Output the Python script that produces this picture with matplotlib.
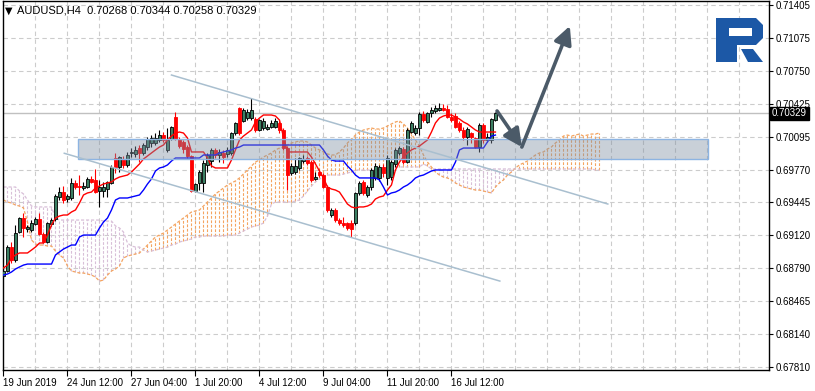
import matplotlib
matplotlib.use("Agg")
import matplotlib.pyplot as plt
from matplotlib.patches import Rectangle, Polygon
from matplotlib.transforms import blended_transform_factory
import numpy as np

plt.rcParams['font.family'] = ['Liberation Sans', 'DejaVu Sans']

# ---- data (AUDUSD H4) ----
opens = [0.68714, 0.68764, 0.69002, 0.68873, 0.69151, 0.69290, 0.69181, 0.69171, 0.69230, 0.69280,
         0.69131, 0.69052, 0.69230, 0.69280, 0.69499, 0.69548, 0.69479, 0.69489, 0.69638, 0.69608,
         0.69588, 0.69598, 0.69678, 0.69668, 0.69558, 0.69558, 0.69578, 0.69638, 0.69886, 0.69797,
         0.69876, 0.69817, 0.69936, 0.69926, 0.69985, 0.69936, 0.69995, 0.70035, 0.70035, 0.70065,
         0.70114, 0.69966, 0.70075, 0.70293, 0.70075, 0.70045, 0.69995, 0.69906, 0.69558, 0.69638,
         0.69638, 0.69817, 0.69856, 0.69966, 0.69916, 0.69936, 0.69926, 0.69936, 0.70134, 0.70383,
         0.70254, 0.70283, 0.70283, 0.70273, 0.70164, 0.70184, 0.70174, 0.70194, 0.70194, 0.70234,
         0.70164, 0.69985, 0.69737, 0.69747, 0.69787, 0.69856, 0.69886, 0.69846, 0.69678, 0.69747,
         0.69717, 0.69598, 0.69320, 0.69370, 0.69270, 0.69240, 0.69240, 0.69240, 0.69240, 0.69539,
         0.69648, 0.69519, 0.69598, 0.69688, 0.69688, 0.69797, 0.69688, 0.69697, 0.69827, 0.69936,
         0.69975, 0.69846, 0.70144, 0.70134, 0.70184, 0.70323, 0.70244, 0.70333, 0.70353, 0.70363,
         0.70383, 0.70373, 0.70293, 0.70303, 0.70234, 0.70164, 0.70095, 0.70134, 0.70085, 0.69995,
         0.70214, 0.70065, 0.70065, 0.70268]
highs = [0.68794, 0.69022, 0.69052, 0.69221, 0.69300, 0.69340, 0.69221, 0.69270, 0.69300, 0.69340,
         0.69151, 0.69250, 0.69290, 0.69529, 0.69598, 0.69608, 0.69529, 0.69688, 0.69668, 0.69717,
         0.69648, 0.69697, 0.69707, 0.69777, 0.69668, 0.69648, 0.69658, 0.69817, 0.69936, 0.69906,
         0.69906, 0.69946, 0.69985, 0.70005, 0.70015, 0.70035, 0.70095, 0.70114, 0.70134, 0.70164,
         0.70144, 0.70184, 0.70204, 0.70343, 0.70095, 0.70065, 0.70015, 0.69916, 0.69638, 0.69767,
         0.69866, 0.69936, 0.69985, 0.69985, 0.69975, 0.69966, 0.69995, 0.70144, 0.70244, 0.70392,
         0.70383, 0.70373, 0.70482, 0.70293, 0.70273, 0.70283, 0.70224, 0.70263, 0.70283, 0.70254,
         0.70184, 0.70005, 0.69836, 0.69886, 0.69896, 0.69916, 0.69906, 0.69866, 0.69747, 0.69777,
         0.69737, 0.69618, 0.69390, 0.69390, 0.69290, 0.69300, 0.69250, 0.69270, 0.69548, 0.69658,
         0.69668, 0.69618, 0.69787, 0.69836, 0.69817, 0.69827, 0.69916, 0.69866, 0.69985, 0.70005,
         0.69995, 0.70184, 0.70254, 0.70214, 0.70343, 0.70353, 0.70343, 0.70392, 0.70412, 0.70432,
         0.70422, 0.70412, 0.70333, 0.70333, 0.70254, 0.70194, 0.70194, 0.70144, 0.70095, 0.70234,
         0.70234, 0.70134, 0.70283, 0.70344]
lows = [0.68694, 0.68754, 0.68843, 0.68853, 0.69141, 0.69102, 0.69151, 0.69151, 0.69221, 0.69121,
        0.69042, 0.69042, 0.69211, 0.69260, 0.69469, 0.69439, 0.69449, 0.69469, 0.69578, 0.69519,
        0.69568, 0.69588, 0.69638, 0.69539, 0.69400, 0.69499, 0.69499, 0.69628, 0.69737, 0.69747,
        0.69787, 0.69797, 0.69896, 0.69896, 0.69846, 0.69916, 0.69966, 0.69995, 0.70015, 0.70045,
        0.70045, 0.69946, 0.70065, 0.70065, 0.69985, 0.69936, 0.69886, 0.69548, 0.69548, 0.69568,
        0.69548, 0.69747, 0.69797, 0.69886, 0.69846, 0.69836, 0.69896, 0.69916, 0.70114, 0.70114,
        0.70244, 0.70263, 0.70263, 0.70144, 0.70154, 0.70164, 0.70164, 0.70184, 0.70184, 0.70134,
        0.69966, 0.69568, 0.69717, 0.69727, 0.69767, 0.69836, 0.69817, 0.69648, 0.69668, 0.69697,
        0.69588, 0.69350, 0.69300, 0.69250, 0.69221, 0.69201, 0.69171, 0.69102, 0.69221, 0.69519,
        0.69519, 0.69499, 0.69568, 0.69668, 0.69658, 0.69697, 0.69618, 0.69668, 0.69797, 0.69916,
        0.69827, 0.69836, 0.70134, 0.70114, 0.70114, 0.70244, 0.70234, 0.70293, 0.70333, 0.70353,
        0.70353, 0.70283, 0.70244, 0.70184, 0.70144, 0.70065, 0.70015, 0.70035, 0.69985, 0.69946,
        0.70035, 0.70045, 0.70035, 0.70258]
closes = [0.68764, 0.69002, 0.68873, 0.69141, 0.69290, 0.69191, 0.69201, 0.69240, 0.69280, 0.69131,
          0.69052, 0.69240, 0.69270, 0.69509, 0.69548, 0.69469, 0.69509, 0.69638, 0.69598, 0.69598,
          0.69608, 0.69678, 0.69648, 0.69548, 0.69598, 0.69598, 0.69648, 0.69797, 0.69797, 0.69896,
          0.69817, 0.69916, 0.69946, 0.69966, 0.69936, 0.70015, 0.70075, 0.70085, 0.70085, 0.70114,
          0.70065, 0.70065, 0.70194, 0.70075, 0.70005, 0.69975, 0.69906, 0.69558, 0.69628, 0.69747,
          0.69836, 0.69916, 0.69966, 0.69916, 0.69946, 0.69896, 0.69966, 0.70134, 0.70234, 0.70134,
          0.70363, 0.70343, 0.70363, 0.70164, 0.70263, 0.70254, 0.70194, 0.70234, 0.70254, 0.70164,
          0.69985, 0.69717, 0.69807, 0.69807, 0.69886, 0.69876, 0.69836, 0.69668, 0.69697, 0.69717,
          0.69598, 0.69370, 0.69370, 0.69270, 0.69240, 0.69221, 0.69191, 0.69181, 0.69539, 0.69638,
          0.69539, 0.69598, 0.69767, 0.69807, 0.69797, 0.69737, 0.69886, 0.69846, 0.69966, 0.69985,
          0.69846, 0.70164, 0.70234, 0.70184, 0.70323, 0.70263, 0.70333, 0.70363, 0.70383, 0.70383,
          0.70363, 0.70293, 0.70263, 0.70194, 0.70164, 0.70095, 0.70174, 0.70095, 0.69995, 0.70214,
          0.70065, 0.70095, 0.70273, 0.70329]

# Ichimoku lines as drawn on the chart
tenkan = [0.68794, 0.68823, 0.68893, 0.68923, 0.68943, 0.68943, 0.68943, 0.68972, 0.69002, 0.69042,
          0.69042, 0.69121, 0.69221, 0.69290, 0.69310, 0.69320, 0.69320, 0.69350, 0.69370, 0.69439,
          0.69519, 0.69539, 0.69548, 0.69588, 0.69608, 0.69628, 0.69638, 0.69648, 0.69678, 0.69697,
          0.69707, 0.69717, 0.69747, 0.69787, 0.69827, 0.69876, 0.69906, 0.69936, 0.69966, 0.69995,
          0.70015, 0.70065, 0.70104, 0.70134, 0.70144, 0.70134, 0.70085, 0.69946, 0.69946, 0.69946,
          0.69946, 0.69886, 0.69807, 0.69787, 0.69787, 0.69787, 0.69787, 0.69866, 0.69966, 0.70065,
          0.70104, 0.70134, 0.70164, 0.70244, 0.70283, 0.70313, 0.70313, 0.70313, 0.70303, 0.70263,
          0.70095, 0.69946, 0.69946, 0.69946, 0.69946, 0.69946, 0.69946, 0.69896, 0.69827, 0.69757,
          0.69688, 0.69598, 0.69578, 0.69568, 0.69548, 0.69489, 0.69429, 0.69400, 0.69390, 0.69400,
          0.69400, 0.69409, 0.69429, 0.69479, 0.69499, 0.69509, 0.69568, 0.69618, 0.69767, 0.69846,
          0.69896, 0.69936, 0.69966, 0.69985, 0.70005, 0.70035, 0.70065, 0.70144, 0.70234, 0.70283,
          0.70303, 0.70313, 0.70313, 0.70293, 0.70273, 0.70244, 0.70224, 0.70194, 0.70164, 0.70144,
          0.70144, 0.70144, 0.70144, 0.70144]
kijun = [0.68724, 0.68734, 0.68754, 0.68784, 0.68804, 0.68823, 0.68833, 0.68833, 0.68833, 0.68833,
         0.68833, 0.68833, 0.68833, 0.68923, 0.68953, 0.68982, 0.69002, 0.69022, 0.69022, 0.69102,
         0.69121, 0.69121, 0.69121, 0.69121, 0.69191, 0.69250, 0.69290, 0.69370, 0.69469, 0.69489,
         0.69489, 0.69489, 0.69499, 0.69509, 0.69519, 0.69568, 0.69628, 0.69678, 0.69757, 0.69787,
         0.69797, 0.69817, 0.69856, 0.69886, 0.69886, 0.69886, 0.69886, 0.69886, 0.69886, 0.69886,
         0.69916, 0.69916, 0.69916, 0.69916, 0.69936, 0.69946, 0.69956, 0.69966, 0.69985, 0.69995,
         0.70015, 0.70015, 0.70015, 0.70015, 0.70015, 0.70015, 0.70015, 0.70015, 0.70015, 0.70015,
         0.70015, 0.70015, 0.70015, 0.70015, 0.70015, 0.70015, 0.70015, 0.70015, 0.70015, 0.70015,
         0.69966, 0.69906, 0.69866, 0.69856, 0.69856, 0.69856, 0.69807, 0.69767, 0.69717, 0.69688,
         0.69688, 0.69688, 0.69688, 0.69688, 0.69668, 0.69598, 0.69519, 0.69539, 0.69548, 0.69568,
         0.69598, 0.69618, 0.69648, 0.69688, 0.69707, 0.69717, 0.69737, 0.69757, 0.69767, 0.69767,
         0.69767, 0.69767, 0.69767, 0.69846, 0.69966, 0.69985, 0.69985, 0.69985, 0.69985, 0.69985,
         0.69985, 0.70045, 0.70104, 0.70114]
span_a = [0.69469, 0.69449, 0.69439, 0.69419, 0.69409, 0.69390, 0.69250, 0.69072, 0.69032, 0.69022,
          0.69022, 0.69012, 0.69012, 0.68962, 0.68923, 0.68893, 0.68814, 0.68764, 0.68754, 0.68744,
          0.68744, 0.68734, 0.68724, 0.68704, 0.68664, 0.68674, 0.68724, 0.68764, 0.68784, 0.68814,
          0.68893, 0.68913, 0.68923, 0.68933, 0.68943, 0.68982, 0.69022, 0.69062, 0.69102, 0.69121,
          0.69141, 0.69171, 0.69201, 0.69230, 0.69260, 0.69290, 0.69320, 0.69350, 0.69360, 0.69370,
          0.69409, 0.69449, 0.69489, 0.69529, 0.69558, 0.69588, 0.69618, 0.69638, 0.69658, 0.69688,
          0.69727, 0.69767, 0.69807, 0.69846, 0.69866, 0.69896, 0.69916, 0.69936, 0.69966, 0.69985,
          0.69995, 0.70015, 0.70035, 0.70045, 0.70055, 0.70055, 0.70045, 0.70015, 0.69985, 0.69966,
          0.69946, 0.69926, 0.69916, 0.69916, 0.69946, 0.69985, 0.70035, 0.70075, 0.70114, 0.70144,
          0.70164, 0.70174, 0.70184, 0.70174, 0.70174, 0.70184, 0.70204, 0.70224, 0.70244, 0.70254,
          0.70224, 0.70184, 0.70124, 0.70065, 0.70005, 0.69916, 0.69846, 0.69797, 0.69747, 0.69717,
          0.69697, 0.69688, 0.69668, 0.69638, 0.69618, 0.69598, 0.69588, 0.69578, 0.69568, 0.69568,
          0.69558, 0.69548, 0.69539, 0.69598, 0.69638, 0.69668, 0.69717, 0.69747, 0.69787, 0.69817,
          0.69836, 0.69856, 0.69886, 0.69916, 0.69936, 0.69946, 0.69975, 0.69995, 0.70035, 0.70065,
          0.70104, 0.70114, 0.70104, 0.70114, 0.70124, 0.70104, 0.70114, 0.70124, 0.70124, 0.70134]
span_b = [0.69598, 0.69598, 0.69598, 0.69598, 0.69558, 0.69529, 0.69469, 0.69409, 0.69400, 0.69400,
          0.69400, 0.69400, 0.69400, 0.69290, 0.69270, 0.69270, 0.69270, 0.69270, 0.69270, 0.69270,
          0.69270, 0.69270, 0.69270, 0.69270, 0.69270, 0.69260, 0.69260, 0.69260, 0.69211, 0.69191,
          0.69151, 0.69042, 0.69012, 0.69002, 0.69002, 0.68972, 0.68953, 0.68962, 0.68972, 0.68982,
          0.68992, 0.69002, 0.69022, 0.69032, 0.69052, 0.69062, 0.69072, 0.69082, 0.69102, 0.69102,
          0.69111, 0.69111, 0.69111, 0.69111, 0.69111, 0.69111, 0.69121, 0.69121, 0.69121, 0.69141,
          0.69161, 0.69181, 0.69201, 0.69211, 0.69221, 0.69240, 0.69310, 0.69429, 0.69449, 0.69449,
          0.69449, 0.69449, 0.69449, 0.69459, 0.69469, 0.69509, 0.69558, 0.69608, 0.69648, 0.69678,
          0.69697, 0.69717, 0.69717, 0.69717, 0.69717, 0.69727, 0.69737, 0.69747, 0.69767, 0.69767,
          0.69767, 0.69767, 0.69767, 0.69767, 0.69767, 0.69767, 0.69797, 0.69797, 0.69797, 0.69797,
          0.69797, 0.69797, 0.69797, 0.69797, 0.69797, 0.69827, 0.69807, 0.69777, 0.69777, 0.69777,
          0.69777, 0.69777, 0.69777, 0.69777, 0.69777, 0.69777, 0.69777, 0.69777, 0.69777, 0.69777,
          0.69777, 0.69777, 0.69777, 0.69777, 0.69777, 0.69777, 0.69777, 0.69777, 0.69777, 0.69777,
          0.69777, 0.69777, 0.69777, 0.69777, 0.69777, 0.69777, 0.69777, 0.69777, 0.69777, 0.69777,
          0.69777, 0.69777, 0.69777, 0.69777, 0.69777, 0.69777, 0.69777, 0.69777, 0.69767, 0.69767]

price_ticks = [0.71405, 0.71075, 0.70750, 0.70425, 0.70095, 0.69770,
               0.69445, 0.69120, 0.68790, 0.68465, 0.68140, 0.67810]
time_labels = ["19 Jun 2019", "24 Jun 12:00", "27 Jun 04:00", "1 Jul 20:00",
               "4 Jul 12:00", "9 Jul 04:00", "11 Jul 20:00", "16 Jul 12:00"]
time_label_bars = [0, 16, 32, 48, 64, 80, 96, 112]
last_price = 0.70329
header = "AUDUSD,H4  0.70268 0.70344 0.70258 0.70329"

# hand drawn objects (bar index, price)
zone = (18.6, 176.1, 0.69876, 0.70075)
channel_upper = [(42.0, 0.70710), (151.1, 0.69429)]
channel_lower = [(15.2, 0.69933), (124.1, 0.68664)]
arrow_path = [(123.4, 0.70353), (129.6, 0.69995), (141.6, 0.71197)]

W, H = 815, 391
fig = plt.figure(figsize=(W / 100, H / 100), dpi=100)
ax = fig.add_axes([2.5 / W, 21 / H, 766.5 / W, 369 / H])
ax.set_xlim(-0.25, 191.4)
ax.set_ylim(0.67781, 0.71445)

grid_col = "#cccccc"
for p in price_ticks:
    ax.axhline(p, color=grid_col, lw=0.8, ls=(0, (4, 3)), zorder=0)
for v in range(8, 192, 8):
    ax.axvline(v, color=grid_col, lw=0.8, ls=(0, (4, 3)), zorder=0)

# cloud hatching
a = np.array(span_a)
b = np.array(span_b)
cx = np.arange(len(a))
up = a >= b
hatch = (0, (2.5, 1.5))
ax.vlines(cx[up], b[up], a[up], colors="#f4a460", linestyles=hatch, lw=0.8, zorder=1)
ax.vlines(cx[~up], a[~up], b[~up], colors="#d8bfd8", linestyles=hatch, lw=0.8, zorder=1)
ax.plot(cx, a, color="#f4a460", lw=0.9, ls=hatch, zorder=1)
ax.plot(cx, b, color="#d8bfd8", lw=0.9, ls=hatch, zorder=1)

# current price line
ax.axhline(last_price, color="#c0c0c0", lw=1, zorder=1)

# candles
o = np.array(opens)
hi = np.array(highs)
lo = np.array(lows)
c = np.array(closes)
x = np.arange(len(o))
bull = c >= o
ax.vlines(x[bull], lo[bull], hi[bull], color="black", lw=0.8, zorder=3)
ax.vlines(x[~bull], lo[~bull], hi[~bull], color="red", lw=0.8, zorder=3)
ax.bar(x[bull], c[bull] - o[bull], bottom=o[bull], width=0.55, color="#3c7f63",
       edgecolor="black", lw=0.6, zorder=4)
ax.bar(x[~bull], o[~bull] - c[~bull], bottom=c[~bull], width=0.55, color="red",
       edgecolor="red", lw=0.6, zorder=4)

ax.plot(x, tenkan, color="red", lw=1, zorder=5)
ax.plot(x, kijun, color="blue", lw=1, zorder=5)

# zone rectangle
ax.add_patch(Rectangle((zone[0], zone[2]), zone[1] - zone[0], zone[3] - zone[2],
                       facecolor="#7f8fa3", alpha=0.42, edgecolor="none", zorder=6))
ax.add_patch(Rectangle((zone[0], zone[2]), zone[1] - zone[0], zone[3] - zone[2],
                       facecolor="none", edgecolor="#8db4e2", lw=1, zorder=6))

# channel
for line in (channel_upper, channel_lower):
    ax.plot([line[0][0], line[1][0]], [line[0][1], line[1][1]], color="#a9bfcf", lw=1.1, zorder=7)

# arrows
for i in range(2):
    ax.annotate("", xy=arrow_path[i + 1], xytext=arrow_path[i],
                arrowprops=dict(arrowstyle="-|>,head_length=0.9,head_width=0.45", lw=2.6,
                                color="#4b5a68", shrinkA=0, shrinkB=0, mutation_scale=12),
                zorder=8)

# axes styling
for s in ax.spines.values():
    s.set_color("black")
    s.set_linewidth(1)
ax.yaxis.tick_right()
ax.set_yticks(price_ticks)
ax.set_yticklabels(["%.5f" % p for p in price_ticks])
ax.tick_params(axis="y", direction="out", length=3, width=0.8, labelsize=7, pad=1.5)
ax.set_xticks(time_label_bars)
ax.set_xticklabels(time_labels, ha="left")
ax.tick_params(axis="x", direction="out", length=4, width=0.8, labelsize=7, pad=2)

tr = blended_transform_factory(ax.transAxes, ax.transData)
ax.text(1.004, last_price, "%.5f" % last_price, transform=tr, color="white", fontsize=7,
        va="center", ha="left", zorder=10,
        bbox=dict(boxstyle="square,pad=0.18", fc="black", ec="black"))

# overlay in pixel coords for header and logo
ov = fig.add_axes([0, 0, 1, 1], zorder=5)
ov.set_xlim(0, W)
ov.set_ylim(H, 0)
ov.axis("off")
ov.patch.set_alpha(0)
ov.text(5, 10.5, "\u25bc", fontsize=7, va="center", ha="left", family="DejaVu Sans")
ov.text(17, 10.5, header, fontsize=8, va="center", ha="left")

logo_col = "#1c58a6"
ov.add_patch(Polygon([(716, 18), (756, 18), (763, 25), (763, 38), (756, 45), (737, 45),
                      (737, 62), (716, 62)], closed=True, fc=logo_col, ec="none"))
ov.add_patch(Polygon([(729, 28), (752, 28), (752, 36), (729, 36)], closed=True, fc="white", ec="none"))
ov.add_patch(Polygon([(741, 49), (753, 49), (763, 62), (748, 62)], closed=True, fc=logo_col, ec="none"))

fig.savefig("out.png", dpi=100)
